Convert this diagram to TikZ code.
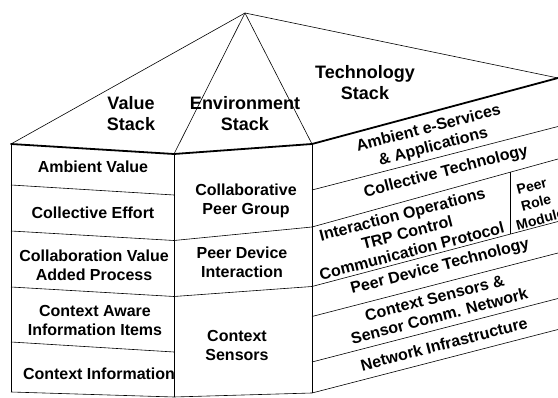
\documentclass[tikz,border=0pt]{standalone}
\usepackage{fontspec}
\setmainfont{Liberation Sans}
\usetikzlibrary{graphs}
\tikzset{
    lbl/.style={font=\bfseries\fontsize{16}{19}\selectfont, align=center, inner sep=0pt},
    head/.style={font=\bfseries\fontsize{18}{21}\selectfont, align=center, inner sep=0pt},
    techlbl/.style={lbl, rotate=14.5},
    rolelbl/.style={font=\bfseries\fontsize{14}{17}\selectfont, align=center, inner sep=0pt, rotate=14.5},
    rim/.style={line width=1.8pt, line cap=round}
}
\begin{document}
\begin{tikzpicture}[x=1pt, y=-1pt, line width=0.6pt]
        \useasboundingbox (0,0) rectangle (558,398);

        \coordinate (a)  at (245, 13);
        \coordinate (l0) at (11, 144);
        \coordinate (l1) at (11, 185);
        \coordinate (l2) at (11, 231);
        \coordinate (l3) at (11, 287);
        \coordinate (l4) at (11, 342);
        \coordinate (l5) at (11, 392);
        \coordinate (m0) at (174, 154);
        \coordinate (m1) at (174, 195);
        \coordinate (m2) at (174, 240.5);
        \coordinate (m3) at (174, 296.5);
        \coordinate (m4) at (174, 352);
        \coordinate (m5) at (174, 397);
        \coordinate (n0) at (312, 144);
        \coordinate (n1) at (312, 190);
        \coordinate (n2) at (312, 227);
        \coordinate (n3) at (312, 286.5);
        \coordinate (n4) at (312, 316.5);
        \coordinate (n5) at (312, 362);
        \coordinate (n6) at (312, 393);
        \coordinate (r0) at (558, 78);
        \coordinate (r1) at (558, 126.5);
        \coordinate (r2) at (558, 159);
        \coordinate (r3) at (558, 221.5);
        \coordinate (r4) at (558, 253);
        \coordinate (r5) at (558, 298.5);
        \coordinate (r6) at (558, 329.5);
        \coordinate (p1) at (510, 172.5);
        \coordinate (p2) at (510, 234.3);

        \graph {(a) -- {(l0), (m0), (n0), (r0)}};
        \graph {(l0) -- (l5)};
        \graph {(m0) -- (m5)};
        \graph {(n0) -- (n6)};
        \graph {(l1) -- (m1); (l2) -- (m2); (l3) -- (m3); (l4) -- (m4); (l5) -- (m5)};
        \graph {(m2) -- (n2); (m3) -- (n3); (m5) -- (n6)};
        \graph {(n1) -- (r1); (n2) -- (r2); (n3) -- (r3); (n4) -- (r4); (n5) -- (r5); (n6) -- (r6)};
        \graph {(p1) -- (p2)};
        \graph[edges=rim] {(l0) -- (m0) -- (n0) -- (r0)};

        \node[head] (vs) at (131, 114) {Value\\Stack};
        \node[head] (es) at (245, 114) {Environment\\Stack};
        \node[head] (ts) at (365, 83)  {Technology\\Stack};

        \node[lbl] (av) at (93, 167)   {Ambient Value};
        \node[lbl] (ce) at (93, 213)   {Collective Effort};
        \node[lbl] (cv) at (94, 265)   {Collaboration Value\\Added Process};
        \node[lbl] (ca) at (95, 320)   {Context Aware\\Information Items};
        \node[lbl] (ci) at (99, 374)   {Context Information};

        \node[lbl] (cp) at (246, 201)  {Collaborative\\Peer Group};
        \node[lbl] (pd) at (242, 262)  {Peer Device\\Interaction};
        \node[lbl] (cs) at (237, 345)  {Context\\Sensors};

        \node[techlbl] (ae) at (431, 138)   {Ambient e-Services\\\& Applications};
        \node[techlbl] (ct) at (446, 172)   {Collective Technology};
        \node[techlbl] (io) at (407, 232.5) {Interaction Operations\\TRP Control\\Communication Protocol};
        \node[techlbl] (pt) at (440, 267)   {Peer Device Technology};
        \node[techlbl] (sn) at (437, 307)   {Context Sensors \&\\Sensor Comm. Network};
        \node[techlbl] (ni) at (444, 344)   {Network Infrastructure};
        \node[rolelbl] (pr) at (536, 203)   {Peer\\Role\\Module};
    \end{tikzpicture}
\end{document}
